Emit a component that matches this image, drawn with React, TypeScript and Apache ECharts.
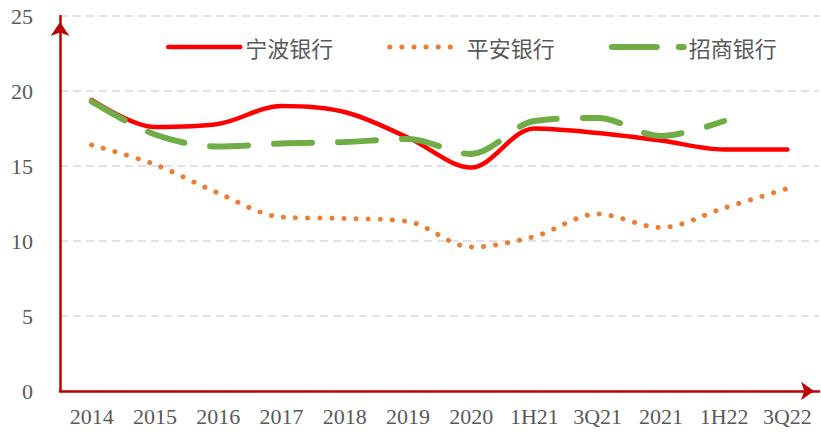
import React, { useEffect, useRef } from "react";
import * as echarts from "echarts";

const categories = ["2014", "2015", "2016", "2017", "2018", "2019", "2020", "1H21", "3Q21", "2021", "1H22", "3Q22"];
const ningbo = [19.4, 17.6, 17.8, 19.0, 18.6, 16.9, 14.9, 17.5, 17.2, 16.7, 16.1, 16.1];
const pingan = [16.4, 15.1, 13.2, 11.6, 11.5, 11.3, 9.6, 10.3, 11.8, 10.9, 12.2, 13.5];
const zhaoshang = [19.3, 17.1, 16.3, 16.5, 16.6, 16.8, 15.8, 18.0, 18.2, 17.0, 18.0, null];
const seriesNames = ["宁波银行", "平安银行", "招商银行"];
const yTicks = { min: 0, max: 25, interval: 5 };

export default function App() {
  const ref = useRef<HTMLDivElement>(null);
  useEffect(() => {
    if (!ref.current) return;
    const chart = echarts.init(ref.current, null, { renderer: "svg" });
    const serif = "'Liberation Serif', 'Times New Roman', serif";
    const red = "#FF0000";
    const orange = "#ED7D31";
    const green = "#70AD47";
    chart.setOption({
      animation: false,
      backgroundColor: "#ffffff",
      grid: { left: 60, right: 2, top: 16, bottom: 43, containLabel: false },
      legend: {
        data: [
          { name: seriesNames[0], itemStyle: { opacity: 0 }, lineStyle: { width: 4.5, color: red, type: "solid", cap: "round" } },
          { name: seriesNames[1], itemStyle: { opacity: 0 }, lineStyle: { width: 5, color: orange, type: [0.1, 12], cap: "round" } },
          { name: seriesNames[2], itemStyle: { opacity: 0 }, lineStyle: { width: 6, color: green, type: [45, 22], cap: "round" } },
        ],
        left: 161,
        top: 31,
        itemWidth: 72,
        itemHeight: 14,
        itemGap: 54,
        textStyle: { color: "#595959", fontSize: 22, fontFamily: "'Noto Sans CJK SC'" },
      },
      xAxis: {
        type: "category",
        data: categories,
        boundaryGap: true,
        axisLine: {
          show: true,
          lineStyle: { color: "#C00000", width: 2.5 },
          symbol: ["none", "arrow"],
          symbolSize: [14, 13],
          symbolOffset: [0, -5],
        },
        axisTick: { show: false },
        axisLabel: { color: "#595959", fontSize: 22, fontFamily: serif, margin: 14, interval: 0 },
        splitLine: { show: false },
      },
      yAxis: {
        type: "value",
        min: yTicks.min,
        max: yTicks.max,
        interval: yTicks.interval,
        axisLine: {
          show: true,
          lineStyle: { color: "#C00000", width: 2.5 },
          symbol: ["none", "arrow"],
          symbolSize: [14, 14],
          symbolOffset: [0, -6],
        },
        axisTick: { show: false },
        axisLabel: { color: "#595959", fontSize: 22, fontFamily: serif, margin: 27 },
        splitLine: { show: true, lineStyle: { color: "#d9d9d9", width: 1.5, type: [8, 5] } },
      },
      series: [
        {
          name: seriesNames[0],
          type: "line",
          data: ningbo,
          smooth: 0.33,
          symbol: "none",
          itemStyle: { color: red },
          lineStyle: { color: red, width: 4.5, cap: "round" },
          z: 2,
        },
        {
          name: seriesNames[1],
          type: "line",
          data: pingan,
          smooth: 0.33,
          symbol: "none",
          itemStyle: { color: orange },
          lineStyle: { color: orange, width: 5, type: [0.1, 12], cap: "round" },
          z: 3,
        },
        {
          name: seriesNames[2],
          type: "line",
          data: zhaoshang,
          smooth: 0.33,
          symbol: "none",
          itemStyle: { color: green },
          lineStyle: { color: green, width: 6, type: [38, 26], cap: "round" },
          z: 4,
        },
      ],
    });
    return () => chart.dispose();
  }, []);
  return (
    <div
      ref={ref}
      style={{ position: "fixed", left: 0, top: 0, width: 821, height: 434, background: "#fff" }}
    />
  );
}
